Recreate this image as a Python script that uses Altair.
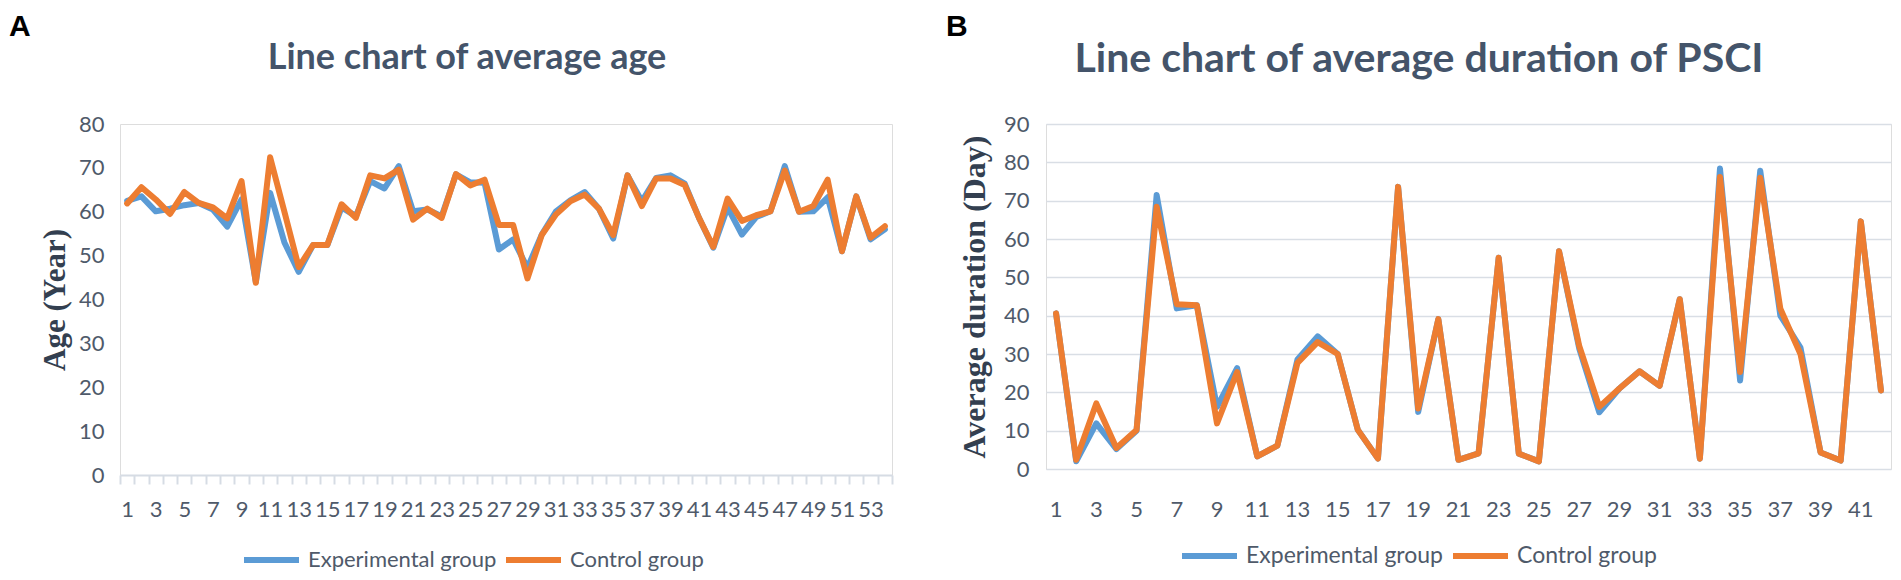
import altair as alt
import pandas as pd

# ---------------- data ----------------
age_idx = list(range(1, 55))
age_exp = [62.5, 63.5, 60.1, 60.7, 61.5, 62.0, 60.5, 56.6, 62.8, 44.0,
           64.3, 53.0, 46.3, 52.4, 52.4, 61.0, 59.0, 67.0, 65.3, 70.4,
           60.1, 60.5, 59.0, 68.5, 66.7, 66.6, 51.4, 53.7, 47.2, 54.8,
           60.1, 62.6, 64.5, 60.7, 53.9, 68.3, 62.4, 67.7, 68.3, 66.4,
           58.6, 51.8, 61.0, 54.8, 58.8, 60.1, 70.4, 60.0, 60.1, 63.3,
           51.0, 63.5, 53.7, 56.0]
age_ctrl = [61.9, 65.6, 62.8, 59.5, 64.5, 62.0, 61.0, 58.5, 67.0, 43.8,
            72.4, 60.0, 47.4, 52.4, 52.4, 61.7, 58.6, 68.3, 67.6, 69.6,
            58.2, 60.7, 58.6, 68.6, 66.0, 67.3, 57.0, 57.0, 44.8, 54.7,
            59.4, 62.4, 63.9, 60.7, 54.7, 68.3, 61.3, 67.6, 67.6, 66.1,
            58.6, 52.0, 63.0, 57.9, 59.2, 60.1, 69.4, 60.0, 61.3, 67.3,
            51.0, 63.5, 54.1, 56.7]

dur_idx = list(range(1, 43))
dur_exp = [40.6, 2.0, 11.9, 5.2, 10.0, 71.5, 41.9, 42.7, 16.2, 26.3,
           3.3, 6.1, 28.6, 34.6, 30.0, 10.2, 2.7, 73.6, 14.9, 39.1,
           2.4, 4.1, 55.1, 4.0, 2.0, 56.8, 31.5, 14.8, 21.0, 25.5,
           21.7, 44.3, 2.7, 78.4, 23.1, 77.8, 40.0, 31.7, 4.3, 2.2,
           64.6, 20.5]
dur_ctrl = [40.6, 2.4, 17.1, 5.5, 10.2, 68.4, 43.0, 42.7, 11.9, 25.3,
            3.3, 6.1, 27.7, 33.1, 30.0, 10.2, 2.7, 73.6, 15.8, 39.1,
            2.4, 4.1, 55.1, 4.0, 2.0, 56.8, 32.2, 16.2, 21.0, 25.5,
            21.7, 44.3, 2.7, 76.2, 25.3, 76.0, 41.8, 30.0, 4.3, 2.2,
            64.6, 20.5]

groups = ["Experimental group", "Control group"]
colors = ["#5B9BD5", "#ED7D31"]
age_ticks = [0, 10, 20, 30, 40, 50, 60, 70, 80]
dur_ticks = [0, 10, 20, 30, 40, 50, 60, 70, 80, 90]
titles = ["Line chart of average age", "Line chart of average duration of PSCI"]
panel_letters = ["A", "B"]


def to_long(idx, exp, ctrl, field):
    return pd.DataFrame({
        "idx": list(idx) + list(idx),
        field: list(exp) + list(ctrl),
        "group": [groups[0]] * len(idx) + [groups[1]] * len(idx),
    })


df_age = to_long(age_idx, age_exp, age_ctrl, "age")
df_dur = to_long(dur_idx, dur_exp, dur_ctrl, "dur")

SANS = "Lato"
SERIF = "Liberation Serif"
LABEL_COLOR = "#4F5A6A"
TITLE_COLOR = "#44546A"
YTITLE_COLOR = "#333F50"

W1, H1 = 772, 351
W2, H2 = 845, 345


def legend(x, y, size):
    return alt.Legend(title=None, orient="none", legendX=x, legendY=y,
                      direction="horizontal", symbolType="stroke",
                      symbolSize=3025, symbolStrokeWidth=6, padding=0,
                      clipHeight=26, labelLimit=400,
                      labelFont=SANS, labelFontSize=size, labelColor=LABEL_COLOR,
                      labelOffset=6, columnPadding=6)


def text_mark(txt, x, y, font, size, color, align, baseline):
    return alt.Chart(pd.DataFrame({"t": [txt]})).mark_text(
        font=font, fontSize=size, fontWeight="bold", color=color,
        align=align, baseline=baseline
    ).encode(text="t:N", x=alt.value(x), y=alt.value(y))


# ---------------- left panel ----------------
left_lines = alt.Chart(df_age).mark_line(
    strokeWidth=6, strokeJoin="round", strokeCap="round"
).encode(
    x=alt.X("idx:O", bandPosition=0.5,
            scale=alt.Scale(type="band", paddingInner=0, paddingOuter=0),
            axis=alt.Axis(title=None, labelAngle=0, labelOverlap=False,
                          labelExpr="datum.value % 2 == 1 ? datum.label : ''",
                          tickBand="extent", grid=False,
                          domainColor="#D6DCE4", domainWidth=2,
                          tickColor="#D6DCE4", tickWidth=2, tickSize=9,
                          labelFont=SANS, labelFontSize=22, labelColor=LABEL_COLOR,
                          labelPadding=15)),
    y=alt.Y("age:Q", scale=alt.Scale(domain=[0, 80], nice=False),
            axis=alt.Axis(values=age_ticks, title="Age (Year)", grid=False,
                          domain=False, ticks=False,
                          labelFont=SANS, labelFontSize=22, labelColor=LABEL_COLOR,
                          labelPadding=16,
                          titleFont=SERIF, titleFontSize=31, titleFontWeight="bold",
                          titleColor=YTITLE_COLOR, titleX=-65, titleY=H1 / 2,
                          titleAlign="center", titleBaseline="middle", titleAngle=270)),
    color=alt.Color("group:N", sort=groups,
                    scale=alt.Scale(domain=groups, range=colors),
                    legend=legend(121, 423, 22)),
)

left = alt.layer(
    left_lines,
    text_mark(panel_letters[0], -111, -112, "Liberation Sans", 30, "#000000", "left", "top"),
    text_mark(titles[0], 347, -55, SANS, 36, TITLE_COLOR, "center", "alphabetic"),
).properties(width=W1, height=H1)

# ---------------- right panel ----------------
right_lines = alt.Chart(df_dur).mark_line(
    strokeWidth=6, strokeJoin="round", strokeCap="round"
).encode(
    x=alt.X("idx:O", bandPosition=0.5,
            scale=alt.Scale(type="band", paddingInner=0, paddingOuter=0),
            axis=alt.Axis(title=None, labelAngle=0, labelOverlap=False,
                          labelExpr="datum.value % 2 == 1 ? datum.label : ''",
                          grid=False, domain=False, ticks=False, tickSize=0,
                          labelFont=SANS, labelFontSize=22, labelColor=LABEL_COLOR,
                          labelPadding=30)),
    y=alt.Y("dur:Q", scale=alt.Scale(domain=[0, 90], nice=False),
            axis=alt.Axis(values=dur_ticks, title="Average duration (Day)",
                          grid=True, gridColor="#D9DEE5", gridWidth=1.5,
                          domain=False, ticks=False,
                          labelFont=SANS, labelFontSize=22, labelColor=LABEL_COLOR,
                          labelPadding=17,
                          titleFont=SERIF, titleFontSize=32, titleFontWeight="bold",
                          titleColor=YTITLE_COLOR, titleX=-72, titleY=H2 / 2,
                          titleAlign="center", titleBaseline="middle", titleAngle=270)),
    color=alt.Color("group:N", sort=groups,
                    scale=alt.Scale(domain=groups, range=colors),
                    legend=legend(133, 419, 23)),
)

right = alt.layer(
    right_lines,
    text_mark(panel_letters[1], -100, -112, "Liberation Sans", 30, "#000000", "left", "top"),
    text_mark(titles[1], 373, -52, SANS, 41, TITLE_COLOR, "center", "alphabetic"),
).properties(width=W2, height=H2)

chart = alt.hconcat(left, right, spacing=154, bounds="flush").resolve_scale(
    color="independent").resolve_legend(color="independent").properties(
    padding={"left": 0, "top": 3, "right": 0, "bottom": 0}
).configure_view(stroke=None).configure(background="white")

chart.save("out.html", embed_options={"renderer": "svg", "actions": False})
